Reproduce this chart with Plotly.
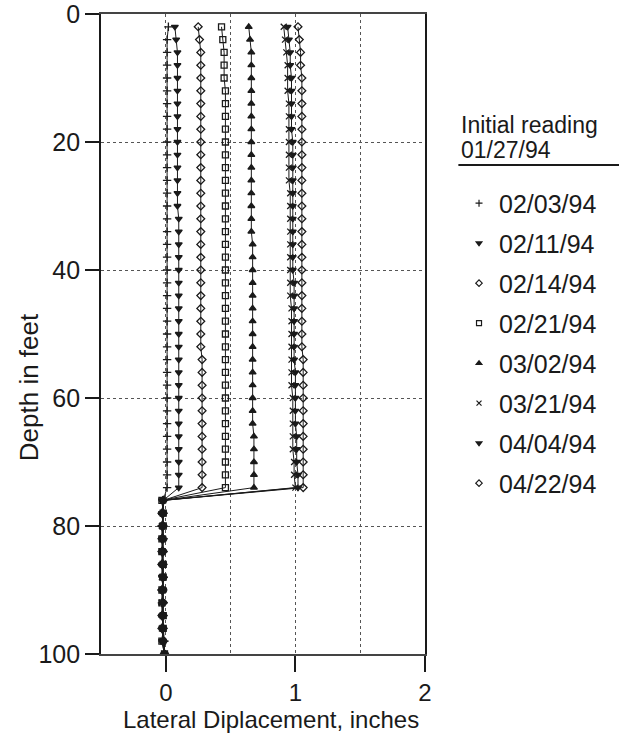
import plotly.graph_objects as go

# Depth (ft) of each reading
DEPTH = [2, 4, 6, 8, 10, 12, 14, 16, 18, 20, 22, 24, 26, 28, 30, 32, 34, 36, 38, 40,
         42, 44, 46, 48, 50, 52, 54, 56, 58, 60, 62, 64, 66, 68, 70, 72, 74,
         76, 78, 80, 82, 84, 86, 88, 90, 92, 94, 96, 98, 100]

DATES = ["02/03/94", "02/11/94", "02/14/94", "02/21/94",
         "03/02/94", "03/21/94", "04/04/94", "04/22/94"]

# Lateral displacement (inches) per reading date
D_0203 = [0.02, 0.01, 0.01, 0.01, 0.01, 0.01, 0.01, 0.01, 0.01, 0.01, 0.01, 0.01, 0.01, 0.01, 0.01, 0.01, 0.01, 0.01, 0.01, 0.01,
          0.01, 0.01, 0.01, 0.01, 0.01, 0.01, 0.01, 0.01, 0.01, 0.01, 0.01, 0.01, 0.01, 0.01, 0.01, 0.01, 0.01,
          -0.02, -0.02, -0.03, -0.02, -0.02, -0.03, -0.02, -0.02, -0.03, -0.02, -0.02, -0.01, -0.01]
D_0211 = [0.07, 0.08, 0.09, 0.09, 0.09, 0.09, 0.09, 0.09, 0.09, 0.09, 0.09, 0.09, 0.09, 0.09, 0.09, 0.10, 0.10, 0.10, 0.10, 0.10,
          0.10, 0.10, 0.10, 0.10, 0.10, 0.10, 0.10, 0.10, 0.10, 0.10, 0.10, 0.10, 0.10, 0.10, 0.10, 0.10, 0.10,
          -0.02, -0.03, -0.02, -0.03, -0.02, -0.02, -0.03, -0.02, -0.02, -0.02, -0.03, -0.02, -0.01]
D_0214 = [0.25, 0.26, 0.27, 0.27, 0.27, 0.27, 0.27, 0.27, 0.27, 0.27, 0.27, 0.27, 0.27, 0.27, 0.27, 0.27, 0.27, 0.27, 0.27, 0.27,
          0.27, 0.27, 0.27, 0.27, 0.27, 0.27, 0.28, 0.28, 0.28, 0.28, 0.28, 0.28, 0.28, 0.28, 0.28, 0.28, 0.28,
          -0.02, -0.02, -0.03, -0.03, -0.02, -0.03, -0.02, -0.03, -0.02, -0.03, -0.02, -0.02, -0.01]
D_0221 = [0.43, 0.44, 0.45, 0.45, 0.45, 0.46, 0.46, 0.46, 0.46, 0.46, 0.46, 0.46, 0.46, 0.46, 0.46, 0.46, 0.46, 0.46, 0.46, 0.46,
          0.46, 0.46, 0.46, 0.46, 0.46, 0.46, 0.46, 0.46, 0.46, 0.46, 0.46, 0.46, 0.46, 0.46, 0.46, 0.46, 0.46,
          -0.03, -0.02, -0.02, -0.03, -0.03, -0.02, -0.02, -0.03, -0.03, -0.02, -0.02, -0.03, -0.01]
D_0302 = [0.64, 0.65, 0.66, 0.66, 0.66, 0.66, 0.66, 0.66, 0.66, 0.66, 0.66, 0.66, 0.66, 0.66, 0.66, 0.66, 0.66, 0.67, 0.67, 0.67,
          0.67, 0.67, 0.67, 0.67, 0.67, 0.67, 0.67, 0.67, 0.67, 0.67, 0.67, 0.67, 0.68, 0.68, 0.68, 0.68, 0.68,
          -0.02, -0.03, -0.02, -0.02, -0.03, -0.03, -0.02, -0.02, -0.03, -0.03, -0.02, -0.02, -0.01]
D_0321 = [0.91, 0.92, 0.93, 0.94, 0.94, 0.94, 0.95, 0.95, 0.95, 0.95, 0.95, 0.95, 0.95, 0.96, 0.96, 0.96, 0.96, 0.96, 0.96, 0.96,
          0.96, 0.96, 0.97, 0.97, 0.97, 0.97, 0.97, 0.97, 0.97, 0.98, 0.98, 0.98, 0.98, 0.98, 0.99, 0.99, 1.00,
          -0.02, -0.02, -0.03, -0.02, -0.03, -0.02, -0.03, -0.02, -0.03, -0.02, -0.03, -0.02, -0.01]
D_0404 = [0.94, 0.95, 0.96, 0.96, 0.97, 0.97, 0.97, 0.97, 0.97, 0.98, 0.98, 0.98, 0.98, 0.98, 0.98, 0.98, 0.98, 0.98, 0.98, 0.98,
          0.99, 0.99, 0.99, 0.99, 0.99, 0.99, 0.99, 1.00, 1.00, 1.00, 1.00, 1.00, 1.01, 1.01, 1.01, 1.02, 1.02,
          -0.03, -0.02, -0.02, -0.03, -0.02, -0.03, -0.03, -0.02, -0.02, -0.03, -0.02, -0.03, -0.01]
D_0422 = [1.02, 1.03, 1.04, 1.04, 1.05, 1.05, 1.05, 1.05, 1.05, 1.05, 1.05, 1.05, 1.05, 1.05, 1.05, 1.05, 1.05, 1.05, 1.05, 1.05,
          1.05, 1.05, 1.05, 1.05, 1.05, 1.05, 1.06, 1.06, 1.06, 1.06, 1.06, 1.06, 1.06, 1.06, 1.06, 1.06, 1.06,
          -0.02, -0.03, -0.02, -0.02, -0.03, -0.02, -0.02, -0.03, -0.02, -0.02, -0.03, -0.02, -0.01]

SERIES = [D_0203, D_0211, D_0214, D_0221, D_0302, D_0321, D_0404, D_0422]
SYMBOLS = ["cross-thin", "triangle-down", "diamond-open", "square-open",
           "triangle-up", "x-thin", "triangle-down", "diamond-open"]

X_TICKS = [0, 1, 2]
Y_TICKS = [0, 20, 40, 60, 80, 100]

INK = "#1a1a1a"
FONT = "Liberation Sans"
fig = go.Figure()

for name, vals, sym in zip(DATES, SERIES, SYMBOLS):
    fig.add_trace(go.Scatter(
        x=vals, y=DEPTH, mode="lines+markers", showlegend=False,
        line=dict(color=INK, width=1),
        marker=dict(symbol=sym, size=6, color=INK, line=dict(color=INK, width=1.3)),
    ))

for i, (name, sym) in enumerate(zip(DATES, SYMBOLS)):
    fig.add_trace(go.Scatter(
        x=[None], y=[None], mode="markers", name=name, legendgroup=f"g{i}",
        marker=dict(symbol=sym, size=5, color=INK, line=dict(color=INK, width=1.2)),
    ))

fig.update_layout(
    width=619, height=736,
    margin=dict(l=101, r=194, t=14, b=82, autoexpand=False),
    paper_bgcolor="white", plot_bgcolor="white",
    font=dict(family=FONT, color=INK, size=24),
    legend=dict(
        x=1.105, xanchor="left", y=0.740, yanchor="top",
        font=dict(size=25, family=FONT, color=INK),
        tracegroupgap=4.5, itemsizing="trace", bgcolor="rgba(0,0,0,0)",
    ),
    xaxis=dict(
        range=[-0.5, 2], tickvals=X_TICKS, ticks="outside", ticklen=16, tickwidth=1.5,
        tickcolor=INK, showline=True, mirror=True, linecolor="#444", linewidth=1.5,
        showgrid=True, gridcolor="#555", griddash="dot", gridwidth=1,
        minor=dict(dtick=0.5, tick0=0, showgrid=True, gridcolor="#555", griddash="dot", gridwidth=1),
        zeroline=False, automargin=False, ticklabeloverflow="allow",
        tickfont=dict(family=FONT, size=24),
    ),
    yaxis=dict(
        range=[100, 0], tickvals=Y_TICKS, ticks="outside", ticklen=14, tickwidth=1.5,
        tickcolor=INK, showline=True, mirror=True, linecolor=INK, linewidth=1.8,
        showgrid=True, gridcolor="#555", griddash="dot", gridwidth=1,
        zeroline=False, automargin=False, ticklabeloverflow="allow",
        tickfont=dict(family=FONT, size=25),
    ),
)

fig.add_annotation(
    xref="paper", yref="paper", x=-0.222, y=0.417, xanchor="center", yanchor="middle",
    text="Depth in feet", showarrow=False, textangle=-90,
    font=dict(family=FONT, size=26, color=INK),
)
fig.add_annotation(
    xref="paper", yref="paper", x=0.525, y=-0.1016, xanchor="center", yanchor="middle",
    text="Lateral Diplacement, inches", showarrow=False,
    font=dict(family=FONT, size=24, color=INK),
)
fig.add_annotation(
    xref="paper", yref="paper", x=1.105, y=0.826, xanchor="left", yanchor="middle",
    text="Initial reading", showarrow=False, align="left",
    font=dict(family=FONT, size=23, color=INK),
)
fig.add_annotation(
    xref="paper", yref="paper", x=1.105, y=0.7875, xanchor="left", yanchor="middle",
    text="01/27/94", showarrow=False, align="left",
    font=dict(family=FONT, size=23, color=INK),
)
fig.add_shape(
    type="line", xref="paper", yref="paper", x0=1.103, x1=1.61, y0=0.764, y1=0.764,
    line=dict(color=INK, width=2),
)

fig.write_html("out.html", config={"displayModeBar": False},
               post_script="document.body.style.margin='0px';")
